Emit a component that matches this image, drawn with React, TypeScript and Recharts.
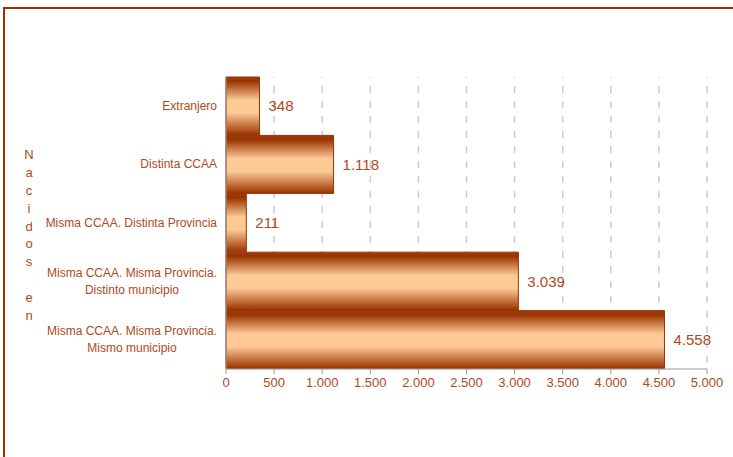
import React from "react";
import { BarChart, Bar, XAxis, YAxis, CartesianGrid, LabelList } from "recharts";

const categories = [
  "Extranjero",
  "Distinta CCAA",
  "Misma CCAA. Distinta Provincia",
  "Misma CCAA. Misma Provincia.\nDistinto municipio",
  "Misma CCAA. Misma Provincia.\nMismo municipio",
];
const values = [348, 1118, 211, 3039, 4558];
const xTicks = [0, 500, 1000, 1500, 2000, 2500, 3000, 3500, 4000, 4500, 5000];
const edgeTicks = [0, 1, 2, 3, 4, 5];
const axisTitle = "Nacidos en";

const data = categories.map((c, i) => ({ name: c, value: values[i] }));

const TEXT = "#b0491c";
const DARK = "#993300";
const LIGHT = "#fdc996";
const FONT = "'Liberation Sans', Arial, sans-serif";

const fmt = (n: number) => String(n).replace(/\B(?=(\d{3})+(?!\d))/g, ".");

let ctx: CanvasRenderingContext2D | null = null;
const measure = (s: string, size: number) => {
  if (!ctx) ctx = document.createElement("canvas").getContext("2d");
  if (!ctx) return s.length * size * 0.5;
  ctx.font = `${size}px 'Liberation Sans', Arial, sans-serif`;
  return ctx.measureText(s).width;
};

const CatTick = (props: any) => {
  const { x, y, payload } = props;
  const lines: string[] = String(payload.value).split("\n");
  const size = 12;
  if (lines.length === 1) {
    return (
      <text x={x} y={y} dy="0.32em" textAnchor="end" fill={TEXT} fontSize={size} fontFamily={FONT}>
        {lines[0]}
      </text>
    );
  }
  const w = Math.max(...lines.map((l) => measure(l, size)));
  const lh = 17;
  const start = -((lines.length - 1) * lh) / 2;
  return (
    <text x={x - w / 2} y={y} textAnchor="middle" fill={TEXT} fontSize={size} fontFamily={FONT}>
      {lines.map((l, i) => (
        <tspan key={i} x={x - w / 2} y={y + start + i * lh} dy="0.32em">
          {l}
        </tspan>
      ))}
    </text>
  );
};

export default function App() {
  return (
    <div style={{ position: "absolute", left: 0, top: 0, width: 733, height: 457, background: "#fff", overflow: "hidden" }}>
      <div
        style={{
          position: "absolute",
          left: 3,
          top: 7,
          width: 740,
          height: 460,
          borderTop: `2px solid ${DARK}`,
          borderLeft: `2px solid ${DARK}`,
        }}
      />
      <div
        style={{
          position: "absolute",
          left: 20,
          top: 146,
          width: 18,
          fontFamily: FONT,
          fontSize: 13,
          color: TEXT,
          lineHeight: "17.9px",
          textAlign: "center",
        }}
      >
        {axisTitle.split("").map((ch, i) => (
          <div key={i} style={{ height: 17.9 }}>{ch === " " ? "\u00a0" : ch}</div>
        ))}
      </div>
      <div style={{ position: "absolute", left: 0, top: 0 }}>
        <BarChart
          width={733}
          height={457}
          data={data}
          layout="vertical"
          margin={{ top: 77, right: 26, bottom: 58, left: 0 }}
          barCategoryGap={0}
        >
          <defs>
            <linearGradient id="barGrad" x1="0" y1="0" x2="0" y2="1">
              <stop offset="0" stopColor="#a03c12" />
              <stop offset="0.07" stopColor={DARK} />
              <stop offset="0.4" stopColor={LIGHT} />
              <stop offset="0.62" stopColor={LIGHT} />
              <stop offset="1" stopColor={DARK} />
            </linearGradient>
          </defs>
          <CartesianGrid
            yAxisId="cat"
            horizontal={false}
            vertical={true}
            stroke="#cccccc"
            strokeWidth={1.5}
            strokeDasharray="7 8"
            strokeDashoffset={-9}
          />
          <XAxis
            type="number"
            domain={[0, 5000]}
            ticks={xTicks}
            interval={0}
            tickFormatter={fmt}
            axisLine={{ stroke: "#999999" }}
            tickLine={{ stroke: "#999999" }}
            tickSize={5}
            tickMargin={4}
            tick={{ fill: TEXT, fontSize: 13, fontFamily: FONT }}
            height={30}
          />
          <YAxis
            yAxisId="edge"
            type="number"
            domain={[0, 5]}
            ticks={edgeTicks}
            reversed
            width={0}
            tick={false}
            axisLine={false}
            tickLine={{ stroke: "#999999" }}
            tickSize={5}
          />
          <YAxis
            yAxisId="cat"
            type="category"
            dataKey="name"
            width={226}
            interval={0}
            axisLine={{ stroke: "#999999" }}
            tickLine={false}
            tickSize={5}
            tickMargin={4}
            tick={<CatTick />}
          />
          <Bar
            dataKey="value"
            yAxisId="cat"
            fill="url(#barGrad)"
            stroke={DARK}
            strokeWidth={1}
            isAnimationActive={false}
          >
            <LabelList
              dataKey="value"
              position="right"
              offset={9}
              formatter={(v: any) => fmt(Number(v))}
              fill={TEXT}
              fontSize={15}
              fontFamily={FONT}
            />
          </Bar>
        </BarChart>
      </div>
    </div>
  );
}
